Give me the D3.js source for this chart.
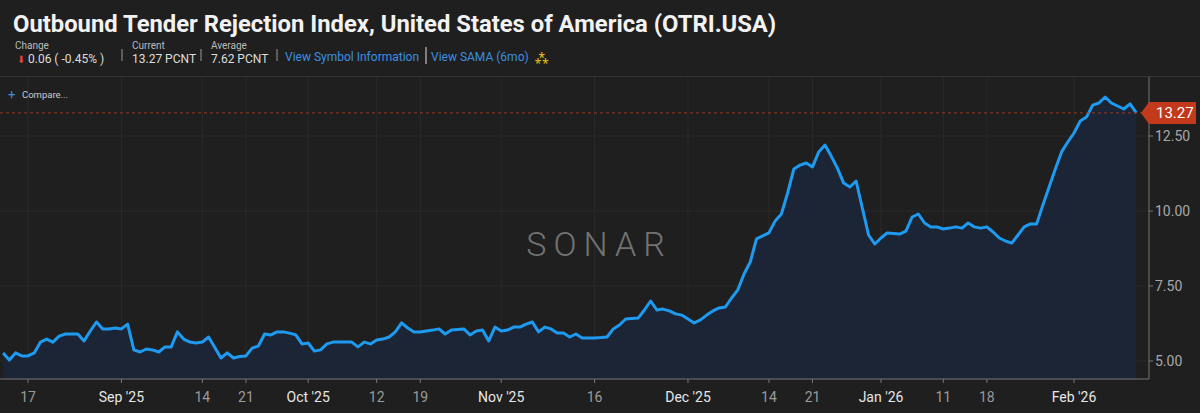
<!DOCTYPE html>
<html><head><meta charset="utf-8">
<script src="https://cdn.jsdelivr.net/npm/d3@7"></script>
<style>
html,body{margin:0;padding:0;background:#1f1f1f;}
svg{display:block;font-family:Roboto, "Noto Sans", sans-serif;}
</style></head><body>
<svg id="c" width="1200" height="413"></svg>
<script>
const dates = ["2025-08-13","2025-08-14","2025-08-15","2025-08-16","2025-08-17","2025-08-18","2025-08-19","2025-08-20","2025-08-21","2025-08-22","2025-08-23","2025-08-24","2025-08-25","2025-08-26","2025-08-27","2025-08-28","2025-08-29","2025-08-30","2025-08-31",
"2025-09-01","2025-09-02","2025-09-03","2025-09-04","2025-09-05","2025-09-06","2025-09-07","2025-09-08","2025-09-09","2025-09-10","2025-09-11","2025-09-12","2025-09-13","2025-09-14","2025-09-15","2025-09-16","2025-09-17","2025-09-18","2025-09-19","2025-09-20","2025-09-21","2025-09-22","2025-09-23","2025-09-24","2025-09-25","2025-09-26","2025-09-27","2025-09-28","2025-09-29","2025-09-30",
"2025-10-01","2025-10-02","2025-10-03","2025-10-04","2025-10-05","2025-10-06","2025-10-07","2025-10-08","2025-10-09","2025-10-10","2025-10-11","2025-10-12","2025-10-13","2025-10-14","2025-10-15","2025-10-16","2025-10-17","2025-10-18","2025-10-19","2025-10-20","2025-10-21","2025-10-22","2025-10-23","2025-10-24","2025-10-25","2025-10-26","2025-10-27","2025-10-28","2025-10-29","2025-10-30","2025-10-31",
"2025-11-01","2025-11-02","2025-11-03","2025-11-04","2025-11-05","2025-11-06","2025-11-07","2025-11-08","2025-11-09","2025-11-10","2025-11-11","2025-11-12","2025-11-13","2025-11-14","2025-11-15","2025-11-16","2025-11-17","2025-11-18","2025-11-19","2025-11-20","2025-11-21","2025-11-22","2025-11-23","2025-11-24","2025-11-25","2025-11-26","2025-11-27","2025-11-28","2025-11-29","2025-11-30",
"2025-12-01","2025-12-02","2025-12-03","2025-12-04","2025-12-05","2025-12-06","2025-12-07","2025-12-08","2025-12-09","2025-12-10","2025-12-11","2025-12-12","2025-12-13","2025-12-14","2025-12-15","2025-12-16","2025-12-17","2025-12-18","2025-12-19","2025-12-20","2025-12-21","2025-12-22","2025-12-23","2025-12-24","2025-12-25","2025-12-26","2025-12-27","2025-12-28","2025-12-29","2025-12-30","2025-12-31",
"2026-01-01","2026-01-02","2026-01-03","2026-01-04","2026-01-05","2026-01-06","2026-01-07","2026-01-08","2026-01-09","2026-01-10","2026-01-11","2026-01-12","2026-01-13","2026-01-14","2026-01-15","2026-01-16","2026-01-17","2026-01-18","2026-01-19","2026-01-20","2026-01-21","2026-01-22","2026-01-23","2026-01-24","2026-01-25","2026-01-26","2026-01-27","2026-01-28","2026-01-29","2026-01-30","2026-01-31",
"2026-02-01","2026-02-02","2026-02-03","2026-02-04","2026-02-05","2026-02-06","2026-02-07","2026-02-08","2026-02-09","2026-02-10","2026-02-11"];
const values = [5.27,5.03,5.27,5.17,5.17,5.27,5.63,5.73,5.63,5.83,5.9,5.9,5.9,5.67,6.0,6.3,6.07,6.07,6.1,
6.07,6.23,5.37,5.3,5.4,5.37,5.3,5.47,5.47,5.97,5.73,5.63,5.6,5.63,5.8,5.45,5.1,5.27,5.1,5.15,5.17,5.43,5.5,5.9,5.87,5.97,5.97,5.93,5.87,5.57,
5.6,5.33,5.37,5.57,5.63,5.63,5.63,5.63,5.47,5.63,5.57,5.7,5.73,5.8,5.97,6.27,6.1,5.97,5.97,6.0,6.03,6.07,5.9,6.03,6.05,6.07,5.87,6.0,6.03,5.67,6.13,
6.0,6.03,6.13,6.13,6.23,6.3,5.97,6.13,6.07,5.93,5.93,5.8,5.9,5.77,5.77,5.77,5.78,5.8,6.07,6.2,6.4,6.42,6.43,6.7,7.0,6.7,6.73,6.67,6.57,6.53,
6.4,6.27,6.37,6.53,6.67,6.77,6.8,7.1,7.37,7.9,8.3,9.07,9.17,9.27,9.67,9.9,10.6,11.4,11.53,11.6,11.47,11.97,12.2,11.83,11.43,10.93,10.8,11.0,10.1,9.2,8.9,
9.1,9.27,9.25,9.23,9.33,9.8,9.9,9.6,9.47,9.47,9.4,9.43,9.47,9.43,9.6,9.47,9.43,9.47,9.3,9.1,9.0,8.93,9.2,9.47,9.57,9.57,10.2,10.8,11.4,11.97,12.3,
12.6,13.0,13.13,13.53,13.6,13.8,13.6,13.5,13.4,13.57,13.27];
const yTicks = [5.0, 7.5, 10.0, 12.5];
const xTickDates = ["2025-08-17","2025-09-01","2025-09-14","2025-09-21","2025-10-01","2025-10-12","2025-10-19","2025-11-01","2025-11-16","2025-12-01","2025-12-14","2025-12-21","2026-01-01","2026-01-11","2026-01-18","2026-02-01"];
const current = 13.27;

const parse = d3.timeParse("%Y-%m-%d");
const data = dates.map((d,i)=>({date:parse(d), v:values[i]}));
const svg = d3.select("#c");
const W=1200, plotL=0, plotR=1149, plotT=77, plotB=379;

// header
svg.append("text").attr("x",13).attr("y",32).attr("fill","#f2f2f2").attr("font-size",23.8).attr("font-weight","bold")
  .text("Outbound Tender Rejection Index, United States of America (OTRI.USA)");
const hdr = [{x:15,l:"Change",v:"0.06 ( -0.45% )"},{x:132,l:"Current",v:"13.27 PCNT"},{x:211,l:"Average",v:"7.62 PCNT"}];
hdr.forEach(h=>{
  svg.append("text").attr("x",h.x).attr("y",49).attr("fill","#bbb").attr("font-size",10).text(h.l);
});
svg.append("text").attr("x",17).attr("y",63).attr("fill","#e0453a").attr("font-size",10).text("⬇");
svg.append("text").attr("x",28).attr("y",63).attr("fill","#ddd").attr("font-size",12).text(hdr[0].v);
svg.append("text").attr("x",132).attr("y",63).attr("fill","#ddd").attr("font-size",12).text(hdr[1].v);
svg.append("text").attr("x",211).attr("y",63).attr("fill","#ddd").attr("font-size",12).text(hdr[2].v);
[122,201,277].forEach(x=>svg.append("line").attr("x1",x).attr("x2",x).attr("y1",49).attr("y2",61).attr("stroke","#999"));
svg.append("line").attr("x1",426).attr("x2",426).attr("y1",47).attr("y2",64).attr("stroke","#ddd");
svg.append("text").attr("x",285).attr("y",61).attr("fill","#3b8fe0").attr("font-size",12).text("View Symbol Information");
svg.append("text").attr("x",431).attr("y",61).attr("fill","#3b8fe0").attr("font-size",12).text("View SAMA (6mo)");
svg.append("text").attr("x",535).attr("y",62).attr("fill","#e8c21c").attr("font-size",12).text("⁂");
svg.append("line").attr("x1",0).attr("x2",W).attr("y1",76.5).attr("y2",76.5).attr("stroke","#333");

const x = d3.scaleTime().domain([new Date(2025,7,12,12), new Date(2026,1,13,1)]).range([plotL,plotR]);
const y = d3.scaleLinear().domain([5,12.5]).range([361,136]);

// grid
const g = svg.append("g");
xTickDates.map(parse).forEach(d=>g.append("line").attr("x1",x(d)).attr("x2",x(d)).attr("y1",plotT).attr("y2",plotB).attr("stroke","#2a2a2a"));
yTicks.forEach(t=>g.append("line").attr("x1",plotL).attr("x2",plotR).attr("y1",y(t)).attr("y2",y(t)).attr("stroke","#2a2a2a"));

// watermark
svg.append("text").attr("x",599).attr("y",256).attr("text-anchor","middle").attr("fill","#727272")
  .attr("font-size",34).attr("letter-spacing",7).attr("font-weight",300).text("SONAR");

// area + line
svg.append("path").datum(data).attr("fill","#1b2638").attr("opacity",0.95)
  .attr("d",d3.area().x(d=>x(d.date)).y0(plotB).y1(d=>y(d.v)));
svg.append("path").datum(data).attr("fill","none").attr("stroke","#1e9bf0").attr("stroke-width",3).attr("stroke-linejoin","round")
  .attr("d",d3.line().x(d=>x(d.date)).y(d=>y(d.v)));

// compare
svg.append("text").attr("x",8).attr("y",99).attr("fill","#3b8fe0").attr("font-size",13).text("+");
svg.append("text").attr("x",22).attr("y",98).attr("fill","#ccc").attr("font-size",9.5).text("Compare...");

// current line
svg.append("line").attr("x1",plotL).attr("x2",plotR).attr("y1",y(current)).attr("y2",y(current))
  .attr("stroke","#9a3a26").attr("stroke-dasharray","3,3");

// x axis
const xa = svg.append("g").attr("transform",`translate(0,${plotB})`);
xa.append("line").attr("x1",0).attr("x2",plotR).attr("stroke","#777");
xTickDates.map(parse).forEach(d=>{
  const isMonth = d.getDate()===1;
  xa.append("line").attr("x1",x(d)).attr("x2",x(d)).attr("y1",0).attr("y2",4).attr("stroke","#777");
  xa.append("text").attr("x",x(d)).attr("y",23).attr("text-anchor","middle").attr("font-size",14)
    .attr("fill",isMonth?"#e6e6e6":"#9a9a9a")
    .text(isMonth? d3.timeFormat("%b '%y")(d) : d3.timeFormat("%-d")(d));
});

// y axis
const ya = svg.append("g").attr("transform",`translate(${plotR},0)`);
ya.append("line").attr("y1",plotT).attr("y2",plotB).attr("stroke","#777");
yTicks.forEach(t=>{
  ya.append("line").attr("x1",0).attr("x2",4).attr("y1",y(t)).attr("y2",y(t)).attr("stroke","#777");
  ya.append("text").attr("x",6).attr("y",y(t)+5).attr("font-size",14).attr("fill","#a8a8a8").text(d3.format(".2f")(t));
});
const cy = y(current);
ya.append("path").attr("d",`M-8,${cy} L0,${cy-11} L47,${cy-11} L47,${cy+11} L0,${cy+11} Z`).attr("fill","#c2391c");
ya.append("text").attr("x",7).attr("y",cy+5.5).attr("font-size",15).attr("fill","#fff").text(current.toFixed(2));
</script></body></html>
